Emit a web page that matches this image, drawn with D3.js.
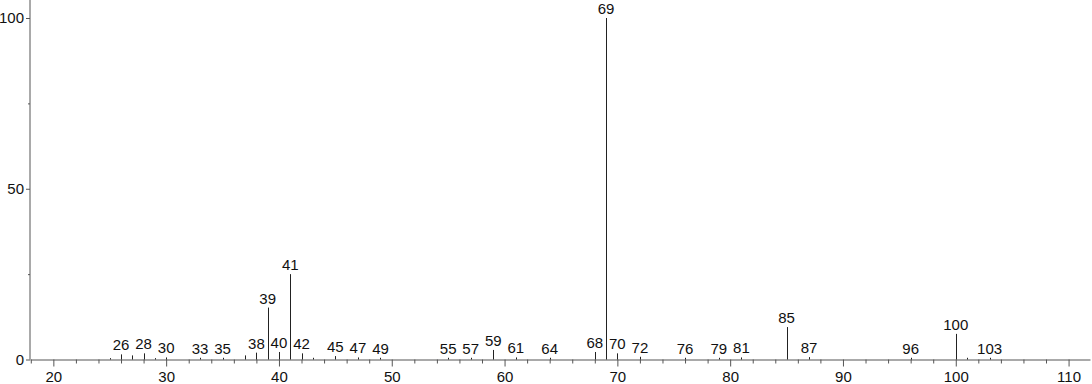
<!DOCTYPE html>
<html>
<head>
<meta charset="utf-8">
<script src="https://cdn.jsdelivr.net/npm/d3@7"></script>
<style>
  html, body { margin: 0; padding: 0; background: #fff; }
  svg { display: block; }
  text { font-family: "Liberation Sans", Arial, sans-serif; }
</style>
</head>
<body>
<svg id="chart" width="1092" height="384"></svg>
<script>
// m/z values and relative intensities (%)
const mz        = [25, 26, 27, 28, 29, 30, 33, 35, 37, 38, 39, 40, 41, 42, 43, 45, 47, 49, 55, 57, 59, 61, 64, 68, 69, 70, 72, 76, 79, 81, 85, 87, 96, 100, 101, 103];
const intensity = [0.4, 1.5, 1.2, 1.8, 0.4, 0.6, 0.5, 0.5, 1.2, 2.0, 15.2, 2.2, 25.0, 1.8, 0.5, 1.0, 0.6, 0.5, 0.5, 0.5, 2.8, 0.6, 0.5, 2.2, 100, 1.8, 0.8, 0.5, 0.5, 0.6, 9.5, 0.7, 0.5, 7.5, 0.5, 0.5];
const labeled   = [26, 28, 30, 33, 35, 38, 39, 40, 41, 42, 45, 47, 49, 55, 57, 59, 61, 64, 68, 69, 70, 72, 76, 79, 81, 85, 87, 96, 100, 103];
const xMajorTicks = [20, 30, 40, 50, 60, 70, 80, 90, 100, 110];
const yMajorTicks = [0, 50, 100];
const yMinorTicks = [25, 75];

const svg = d3.select("#chart");
const x = d3.scaleLinear().domain([17.93, 111.9]).range([30, 1090]);
const y = d3.scaleLinear().domain([0, 100]).range([359.5, 18]);
const axisColor = "#555";
const fontSize = "15px";

const xMinorTicks = d3.range(18, 112, 2).filter(v => v % 10 !== 0);

// X axis (major)
const gx = svg.append("g").attr("transform", `translate(0,${y(0)})`)
  .call(d3.axisBottom(x).tickValues(xMajorTicks).tickSize(7).tickPadding(5).tickSizeOuter(0));
gx.select(".domain").attr("stroke", axisColor);
gx.selectAll(".tick line").attr("stroke", axisColor);
gx.selectAll(".tick text").attr("fill", "#111").style("font-size", fontSize)
  .style("font-family", '"Liberation Sans", Arial, sans-serif');

// X axis minor ticks
const gxm = svg.append("g").attr("transform", `translate(0,${y(0)})`)
  .call(d3.axisBottom(x).tickValues(xMinorTicks).tickSize(4).tickFormat(""));
gxm.select(".domain").remove();
gxm.selectAll(".tick line").attr("stroke", axisColor);

// Y axis
const gy = svg.append("g").attr("transform", `translate(${x.range()[0]},0)`)
  .call(d3.axisLeft(y).tickValues(yMajorTicks).tickSize(4).tickPadding(2).tickSizeOuter(0));
gy.select(".domain").attr("stroke", axisColor).attr("d", `M0,${y(0)}V0`);
gy.selectAll(".tick line").attr("stroke", axisColor);
gy.selectAll(".tick text").attr("fill", "#111").style("font-size", fontSize)
  .style("font-family", '"Liberation Sans", Arial, sans-serif');

const gym = svg.append("g").attr("transform", `translate(${x.range()[0]},0)`)
  .call(d3.axisLeft(y).tickValues(yMinorTicks).tickSize(2).tickFormat(""));
gym.select(".domain").remove();
gym.selectAll(".tick line").attr("stroke", axisColor);

// Peaks
const data = mz.map((m, i) => ({ m, v: intensity[i], lab: labeled.includes(m) }));
svg.append("g").selectAll("line").data(data).join("line")
  .attr("x1", d => Math.round(x(d.m)) + 0.5).attr("x2", d => Math.round(x(d.m)) + 0.5)
  .attr("y1", y(0)).attr("y2", d => y(d.v))
  .attr("stroke", "#222").attr("stroke-width", 1);

// Peak labels
svg.append("g").selectAll("text").data(data.filter(d => d.lab)).join("text")
  .attr("x", d => x(d.m)).attr("y", d => y(d.v) - 4)
  .attr("text-anchor", "middle").attr("fill", "#111").style("font-size", fontSize)
  .text(d => d.m);
</script>
</body>
</html>
